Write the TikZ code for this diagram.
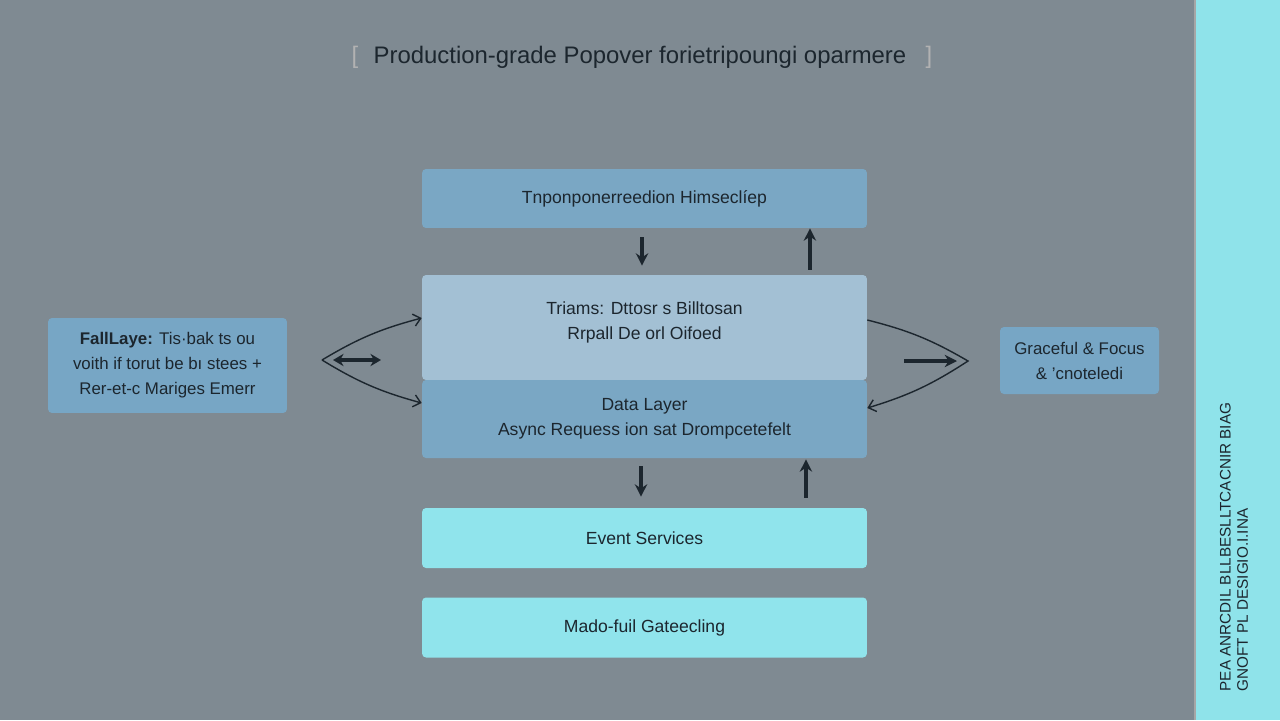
\documentclass[tikz,border=0pt]{standalone}
\usepackage{fontspec}
\setmainfont{Liberation Sans}
\usetikzlibrary{arrows.meta}

\definecolor{bgGray}{RGB}{127,138,146}
\definecolor{stripCyan}{RGB}{143,227,234}
\definecolor{layerBlue}{RGB}{122,167,196}
\definecolor{layerPale}{RGB}{163,192,212}
\definecolor{layerCyan}{RGB}{144,228,236}
\definecolor{sideBlue}{RGB}{119,166,197}
\definecolor{ink}{RGB}{28,38,46}

\begin{document}
\begin{tikzpicture}[x=0.02cm, y=-0.02cm,
    layer/.style={rounded corners=0.08cm, minimum width=8.9cm, inner sep=0pt,
      text=ink, align=center, font=\fontsize{10}{14.2}\selectfont},
    side/.style={rounded corners=0.08cm, fill=sideBlue, inner sep=0pt,
      text=ink, align=center, font=\fontsize{9.6}{14.2}\selectfont},
    flow/.style={-{Straight Barb[length=4pt,width=7pt]}, line width=0.8pt, ink},
    bigflow/.style={-{Stealth[length=7pt,width=7pt]}, line width=2.2pt, ink}]
    % Background and side strip
    \fill[bgGray] (0,0) rectangle (1280,720);
    \useasboundingbox (0,0) rectangle (1280,720);
    \fill[stripCyan] (1195,0) rectangle (1280,720);
    \draw[gray!70, line width=0.6pt] (1195,0) -- (1195,720);
    % Title
    \node (title) at (640,57) [text=ink, font=\fontsize{13.6}{16}\selectfont] {Production-grade Popover forietripoungi oparmere};
    \node (lbrack) at (355,57) [text=gray!60, font=\fontsize{13.6}{16}\selectfont] {[};
    \node (rbrack) at (929,57) [text=gray!60, font=\fontsize{13.6}{16}\selectfont] {]};
    % Drawing the layer stack
    \node[layer, fill=layerBlue, minimum height=1.18cm] (top) at (644.5,198.5) {Tnponponerreedion Himseclíep};
    \node[layer, fill=layerPale, minimum height=2.1cm] (mid) at (644.5,327.5) {};
    \node (midtext) at (644.5,322) [text=ink, align=center, font=\fontsize{10}{14.2}\selectfont] {Triams: Dttosr s Billtosan\\Rrpall De orl Oifoed};
    \node[layer, fill=layerBlue, minimum height=1.56cm] (data) at (644.5,419) {Data Layer\\Async Requess ion sat Drompcetefelt};
    \node[layer, fill=layerCyan, minimum height=1.2cm] (event) at (644.5,538) {Event Services};
    \node[layer, fill=layerCyan, minimum height=1.2cm] (gate) at (644.5,627.5) {Mado-fuil Gateecling};
    % Side boxes
    \node[side, minimum width=4.78cm, minimum height=1.9cm] (fall) at (167.5,365.5) {\textbf{FallLaye:} Tis·bak ts ou\\voith if torut be bı stees +\\Rer-et-c Mariges Emerr};
    \node[side, minimum width=3.18cm, minimum height=1.34cm] (grace) at (1079.5,360.5) {Graceful \& Focus\\\& ’cnoteledi};
    % Vertical arrows between layers
    \draw[bigflow, line width=1.8pt, shorten <=0.18cm, shorten >=0.18cm] ([xshift=-0.05cm]top.south) -- ([xshift=-0.05cm]mid.north);
    \draw[bigflow, shorten <=0.1cm] ([xshift=3.31cm]mid.north) -- ([xshift=3.31cm]top.south);
    \draw[bigflow, line width=1.8pt, shorten <=0.16cm, shorten >=0.22cm] ([xshift=-0.07cm]data.south) -- ([xshift=-0.07cm]event.north);
    \draw[bigflow, shorten <=0.2cm, shorten >=0.02cm] ([xshift=3.23cm]event.north) -- ([xshift=3.23cm]data.south);
    % Fallback links on the left
    \coordinate (lv) at (322,360);
    \coordinate (lvA) at (333,360);
    \coordinate (lvB) at (381,360);
    \draw[flow] (lv) to[bend left=8] ([yshift=0.19cm]mid.west);
    \draw[flow] (lv) to[bend right=8] ([yshift=0.32cm]data.west);
    \draw[{Stealth[length=6pt,width=7pt]}-{Stealth[length=6pt,width=7pt]}, line width=2.2pt, ink] (lvA) -- (lvB);
    % Graceful links on the right
    \coordinate (rv) at (968,361);
    \coordinate (rvA) at (904,361);
    \coordinate (rvB) at (957,361);
    \draw[flow] ([yshift=0.15cm]mid.east) to[bend left=8] (rv) to[bend left=8] ([yshift=0.22cm]data.east);
    \draw[bigflow] (rvA) -- (rvB);
    % Vertical strip text
    \node (striptext) at (1234,547) [rotate=90, text=ink, align=left, font=\fontsize{8.7}{9.8}\selectfont] {PEA ANRCDIL BLLBESLLTCACNIR BIAG\\GNOFT PL DESIGIO.I.INA};
\end{tikzpicture}
\end{document}
